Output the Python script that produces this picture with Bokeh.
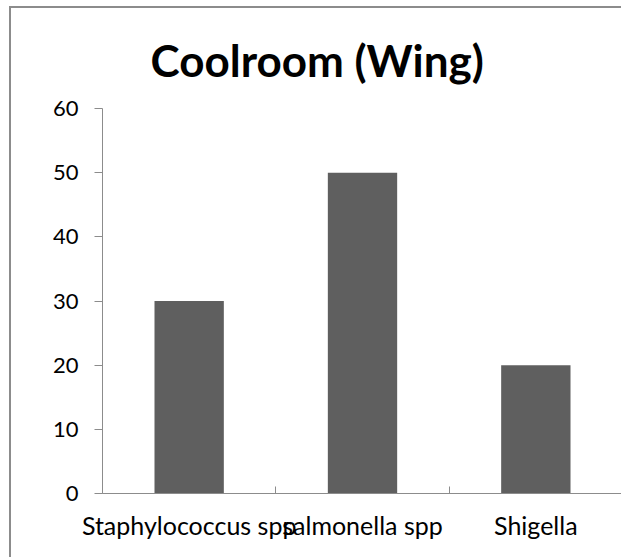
from bokeh.plotting import figure
from bokeh.models import Range1d, LinearAxis, FixedTicker
from bokeh.embed import file_html
from bokeh.resources import INLINE

# ---- data ----
categories = ["Staphylococcus spp", "salmonella spp", "Shigella"]
values = [30, 50, 20]
y_ticks = [0, 10, 20, 30, 40, 50, 60]
title_text = "Coolroom (Wing)"

AXIS_COLOR = "#8c8c8c"
BAR_COLOR = "#5f5f5f"
FONT = "Lato"

n = len(categories)
centers = [i + 0.5 for i in range(n)]
edges = list(range(n + 1))

W, H = 612, 551
p = figure(
    width=W, height=H,
    x_range=Range1d(0, n),
    y_range=Range1d(0, 60),
    x_axis_location=None,
    output_backend="svg", toolbar_location=None,
    min_border_left=91, min_border_right=1,
    min_border_top=100, min_border_bottom=66,
)
p.styles = {
    "margin-left": "9px", "margin-top": "6px",
    "border-left": "2px solid #8c8c8c", "border-top": "2px solid #8c8c8c",
}

p.vbar(x=centers, top=values, width=0.4, color=BAR_COLOR, line_color=None)

# x axis: labels at category centres, small inward ticks at category boundaries
x_axis = LinearAxis(
    ticker=FixedTicker(ticks=centers, minor_ticks=edges),
    major_label_overrides={c: name for c, name in zip(centers, categories)},
    axis_line_color=AXIS_COLOR,
    major_tick_line_color=None, major_tick_in=0, major_tick_out=0,
    minor_tick_line_color=AXIS_COLOR, minor_tick_in=7, minor_tick_out=0,
    major_label_text_font=FONT, major_label_text_font_size="25px",
    major_label_text_color="black", major_label_standoff=16,
)
p.add_layout(x_axis, "below")

ya = p.yaxis[0]
ya.ticker = FixedTicker(ticks=y_ticks)
ya.major_tick_in = 0
ya.major_tick_out = 8
ya.minor_tick_line_color = None
ya.axis_line_color = AXIS_COLOR
ya.major_tick_line_color = AXIS_COLOR
ya.major_label_text_font = FONT
ya.major_label_text_font_size = "22px"
ya.major_label_text_color = "black"
ya.major_label_standoff = 16

p.grid.visible = False
p.outline_line_color = None

# title: left-aligned with an offset so it is centred on the whole chart box
p.title.text = title_text
p.title.text_font = FONT
p.title.text_font_style = "bold"
p.title.text_font_size = "44px"
p.title.text_color = "black"
p.title.align = "left"
p.title.offset = 48
p.title.standoff = 45

open("out.html", "w").write(file_html(p, INLINE))
